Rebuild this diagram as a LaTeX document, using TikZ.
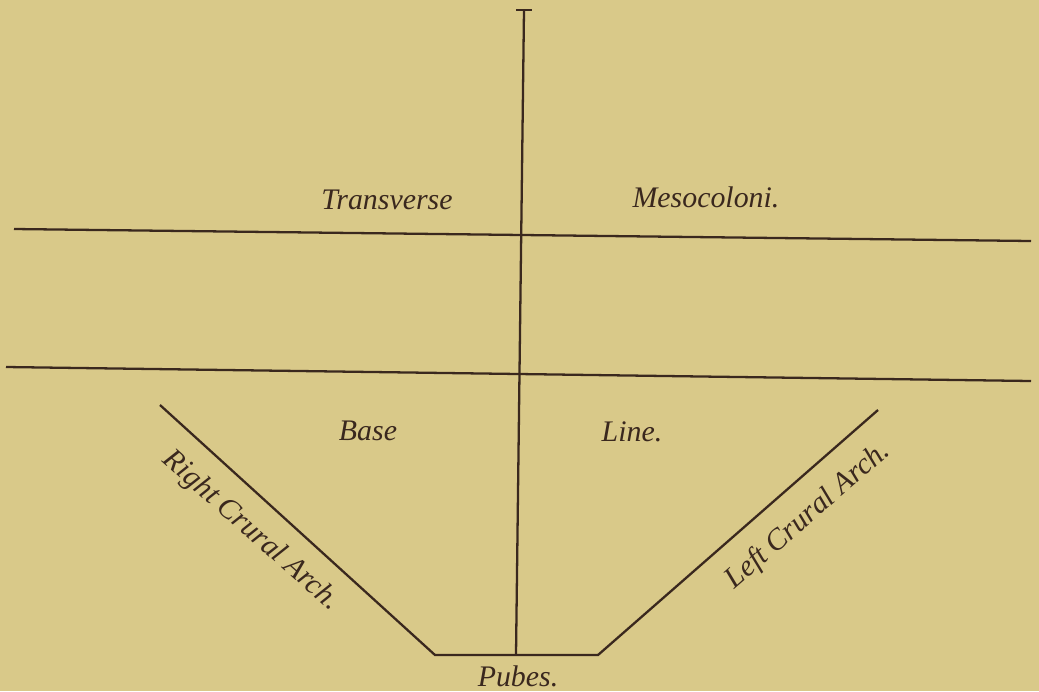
\documentclass[tikz,border=0pt]{standalone}
\usepackage{fontspec}
\setmainfont{Liberation Serif}
\definecolor{paper}{RGB}{217,201,137}
\definecolor{ink}{RGB}{58,40,30}
\tikzset{
  rule/.style={draw=ink,line width=1.3pt},
  lbl/.style={text=ink,font=\fontsize{17}{19}\selectfont\itshape,inner sep=1pt}
}
\begin{document}
\begin{tikzpicture}[x=0.02cm,y=-0.02cm]
\fill[paper] (0,0) rectangle (1039,691);
\useasboundingbox (0,0) rectangle (1039,691);
% end points
\coordinate (top) at (524,10);
\coordinate (bot) at (516,655);
\coordinate (TL) at (14,229);
\coordinate (TR) at (1031,241);
\coordinate (BL) at (6,367);
\coordinate (BR) at (1031,381);
\coordinate (RA) at (160,405);
\coordinate (RB) at (435,655);
\coordinate (LA) at (878,410);
\coordinate (LB) at (598,655);
% labels
\node[lbl] (trans) at (387,200) {Transverse};
\node[lbl] (meso) at (706,197) {Mesocoloni.};
\node[lbl] (base) at (368,431) {Base};
\node[lbl] (line) at (632,432) {Line.};
\node[lbl,rotate=-41.5] (rarch) at (251,531) {Right Crural Arch.};
\node[lbl,rotate=41] (larch) at (808,516) {Left Crural Arch.};
\node[lbl] (pubes) at (518,676) {Pubes.};
% lines
\draw[rule] (top) -- (bot);
\draw[rule] (TL) -- (TR);
\draw[rule] (BL) -- (BR);
\draw[rule] (RA) -- (RB) -- (LB) -- (LA);
\draw[rule] (top) ++(-8,0) -- ++(16,0);
\end{tikzpicture}
\end{document}
